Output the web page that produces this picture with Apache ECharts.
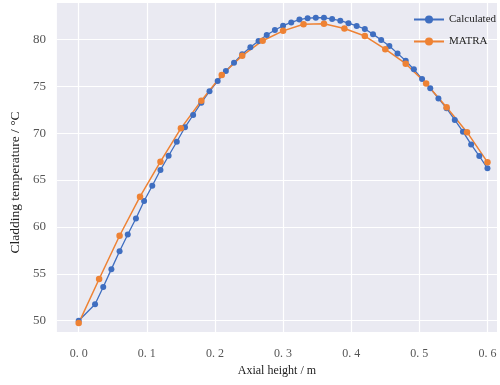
<!DOCTYPE html>
<html>
<head>
<meta charset="utf-8">
<script src="https://cdn.jsdelivr.net/npm/echarts@6/dist/echarts.min.js"></script>
<style>html,body{margin:0;padding:0;background:#fff}#c{width:500px;height:385px}</style>
</head>
<body>
<div id="c"></div>
<script>
var calcX = [0, 0.024, 0.036, 0.048, 0.060, 0.072, 0.084, 0.096, 0.108, 0.120, 0.132, 0.144, 0.156, 0.168, 0.180, 0.192, 0.204, 0.216, 0.228, 0.240, 0.252, 0.264, 0.276, 0.288, 0.300, 0.312, 0.324, 0.336, 0.348, 0.360, 0.372, 0.384, 0.396, 0.408, 0.420, 0.432, 0.444, 0.456, 0.468, 0.480, 0.492, 0.504, 0.516, 0.528, 0.540, 0.552, 0.564, 0.576, 0.588, 0.600];
var calcY = [50.0, 51.75, 53.6, 55.5, 57.4, 59.2, 60.9, 62.76, 64.39, 66.07, 67.59, 69.08, 70.62, 71.93, 73.24, 74.45, 75.55, 76.62, 77.5, 78.4, 79.15, 79.82, 80.46, 80.99, 81.45, 81.8, 82.1, 82.25, 82.3, 82.3, 82.16, 81.98, 81.72, 81.43, 81.1, 80.55, 79.93, 79.29, 78.5, 77.72, 76.8, 75.77, 74.78, 73.7, 72.64, 71.4, 70.15, 68.8, 67.56, 66.25];
var matraX = [0, 0.03, 0.06, 0.09, 0.12, 0.15, 0.18, 0.21, 0.24, 0.27, 0.30, 0.33, 0.36, 0.39, 0.42, 0.45, 0.48, 0.51, 0.54, 0.57, 0.60];
var matraY = [49.75, 54.45, 59.06, 63.22, 66.95, 70.51, 73.45, 76.2, 78.25, 79.85, 80.9, 81.6, 81.65, 81.15, 80.35, 78.95, 77.4, 75.3, 72.75, 70.1, 66.9];
var xTicks = [0, 0.1, 0.2, 0.3, 0.4, 0.5, 0.6];
var xTickLabels = ['0. 0', '0. 1', '0. 2', '0. 3', '0. 4', '0. 5', '0. 6'];
var yTicks = [50, 55, 60, 65, 70, 75, 80];
var seriesNames = ['Calculated', 'MATRA'];

function pairs(xs, ys) { return xs.map(function (x, i) { return [x, ys[i]]; }); }

var serif = '"Liberation Serif", "DejaVu Serif", serif';
var chart = echarts.init(document.getElementById('c'), null, {renderer: 'canvas'});
chart.setOption({
  animation: false,
  backgroundColor: '#ffffff',
  grid: {left: 53, right: 3, top: 3, bottom: 53, show: true, backgroundColor: '#EAEAF2', borderWidth: 0},
  legend: {
    orient: 'vertical', left: 408, top: 9, itemWidth: 30, itemHeight: 10, itemGap: 11,
    textStyle: {fontFamily: serif, fontSize: 11, color: '#222'},
    data: seriesNames
  },
  xAxis: {
    type: 'value', min: -0.032, max: 0.614,
    name: 'Axial height / m', nameLocation: 'middle', nameGap: 33,
    nameTextStyle: {fontFamily: serif, fontSize: 12, color: '#222'},
    axisLine: {show: false},
    axisTick: {show: false, customValues: xTicks},
    axisLabel: {customValues: xTicks, margin: 16, fontFamily: serif, fontSize: 12, color: '#555',
      formatter: function (v) { var i = xTicks.indexOf(Math.round(v * 10) / 10); return i >= 0 ? xTickLabels[i] : ''; }},
    splitLine: {show: true, lineStyle: {color: '#ffffff', width: 1.2}}
  },
  yAxis: {
    type: 'value', min: 48.8, max: 83.87,
    name: 'Cladding temperature / \u00b0C', nameLocation: 'middle', nameGap: 31,
    nameTextStyle: {fontFamily: serif, fontSize: 13.5, color: '#222', padding: [0, 30, 0, 0]},
    axisLine: {show: false},
    axisTick: {show: false, customValues: yTicks},
    axisLabel: {customValues: yTicks, margin: 11, fontFamily: serif, fontSize: 13, color: '#555'},
    splitLine: {show: true, lineStyle: {color: '#ffffff', width: 1.2}}
  },
  series: [
    {name: seriesNames[0], type: 'line', data: pairs(calcX, calcY), symbol: 'circle', symbolSize: 6,
      itemStyle: {color: '#3F6EC0'}, lineStyle: {color: '#3F6EC0', width: 1.3}},
    {name: seriesNames[1], type: 'line', data: pairs(matraX, matraY), symbol: 'circle', symbolSize: 6.5,
      itemStyle: {color: '#EE8234'}, lineStyle: {color: '#EE8234', width: 1.5}}
  ]
});
</script>
</body>
</html>
